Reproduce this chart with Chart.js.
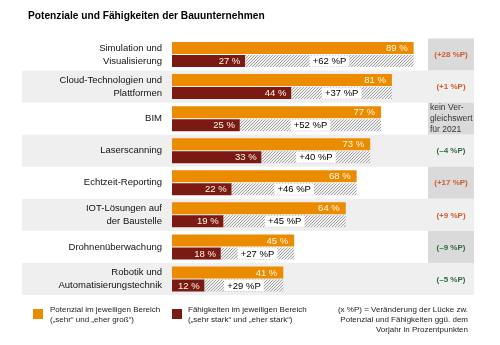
<!DOCTYPE html>
<html><head><meta charset="utf-8">
<script src="https://cdn.jsdelivr.net/npm/chart.js@4"></script>
<style>
body{margin:0;width:500px;height:345px;overflow:hidden;background:#fff;font-family:"Liberation Sans",Arial,sans-serif;}
#wrap{position:relative;width:500px;height:345px;}
canvas{position:absolute;left:0;top:0;}
.t{position:absolute;white-space:nowrap;color:#222;line-height:10px;}
.sq{position:absolute;width:10px;height:10px;}
</style></head><body>
<div id="wrap">
<canvas id="c" width="500" height="345"></canvas>
<div class="t" style="left:28px;top:9px;font-size:10.2px;font-weight:bold;color:#000;line-height:14px;">Potenziale und Fähigkeiten der Bauunternehmen</div>
<div class="sq" style="left:33px;top:309px;background:#eb8c00;"></div>
<div class="t" style="left:50px;top:305px;font-size:8px;">Potenzial im jeweiligen Bereich<br>(„sehr“ und „eher groß“)</div>
<div class="sq" style="left:172px;top:309px;background:#7b1a12;"></div>
<div class="t" style="left:188px;top:305px;font-size:8px;">Fähigkeiten im jeweiligen Bereich<br>(„sehr stark“ und „eher stark“)</div>
<div class="t" style="right:32px;top:305px;font-size:8px;text-align:right;">(x %P) = Veränderung der Lücke zw.<br>Potenzial und Fähigkeiten ggü. dem<br>Vorjahr in Prozentpunkten</div>
</div>
<script>
const categories = [
  ['Simulation und','Visualisierung'],
  ['Cloud-Technologien und','Plattformen'],
  ['BIM'],
  ['Laserscanning'],
  ['Echtzeit-Reporting'],
  ['IOT-Lösungen auf','der Baustelle'],
  ['Drohnenüberwachung'],
  ['Robotik und','Automatisierungstechnik']
];
const potential = [89, 81, 77, 73, 68, 64, 45, 41];
const ability   = [27, 44, 25, 33, 22, 19, 18, 12];
const gapPoints = [62, 37, 52, 40, 46, 45, 27, 29];
const changeVsPrevYear = [28, 1, null, -4, 17, 9, -9, -5];
const noComparisonText = ['kein Ver-','gleichswert','für 2021'];

const ORANGE = '#eb8c00', DARK = '#7b1a12';
const BAND = '#efefef', CELL = '#dadada';
const FONT = '"Liberation Sans", Arial, sans-serif';

function hatch(){
  const pc = document.createElement('canvas'); pc.width = 3; pc.height = 3;
  const g = pc.getContext('2d');
  g.fillStyle = '#f0f0f0'; g.fillRect(0,0,3,3);
  g.fillStyle = '#a3a3a3';
  for (let y=0;y<3;y++) for (let x=0;x<3;x++) if ((x+y)%3===0) g.fillRect(x,y,1,1);
  return document.getElementById('c').getContext('2d').createPattern(pc,'repeat');
}

const bgPlugin = {
  id: 'bg',
  beforeDraw(chart){
    const ctx = chart.ctx, ys = chart.scales.y;
    const step = ys.getPixelForValue(1) - ys.getPixelForValue(0);
    ctx.save();
    categories.forEach((c,i)=>{
      const yc = ys.getPixelForValue(i);
      const top = yc - step/2;
      if (i % 2 === 1){ ctx.fillStyle = BAND; ctx.fillRect(22, top, 452, step); }
      else { ctx.fillStyle = CELL; ctx.fillRect(428, top, 46, step); }
    });
    ctx.restore();
  },
  afterDatasetsDraw(chart){
    const ctx = chart.ctx, ys = chart.scales.y;
    const m0 = chart.getDatasetMeta(0).data, m1 = chart.getDatasetMeta(2).data, mg = chart.getDatasetMeta(1).data;
    ctx.save();
    ctx.textBaseline = 'middle';
    potential.forEach((v,i)=>{
      ctx.font = '9.5px ' + FONT;
      const b = m0[i];
      ctx.fillStyle = '#fff6e6'; ctx.textAlign = 'right';
      ctx.fillText(v + ' %', b.x - 6, b.y + 0.5);
      const d = m1[i];
      ctx.fillText(ability[i] + ' %', d.x - 5, d.y + 0.5);
      const g = mg[i];
      const cx = (g.x + g.base) / 2;
      const txt = '+' + gapPoints[i] + ' %P';
      const w = ctx.measureText(txt).width + 6;
      ctx.fillStyle = '#fff';
      ctx.fillRect(cx - w/2, d.y - 5.5, w, 11);
      ctx.fillStyle = '#000'; ctx.textAlign = 'center';
      ctx.fillText(txt, cx, d.y + 0.5);
      const yc = ys.getPixelForValue(i);
      const cv = changeVsPrevYear[i];
      if (cv === null){
        ctx.font = '8.5px ' + FONT;
        ctx.fillStyle = '#333'; ctx.textAlign = 'left';
        noComparisonText.forEach((t,k)=> ctx.fillText(t, 430, yc + (k-1)*11));
      } else {
        ctx.font = 'bold 8px ' + FONT;
        ctx.fillStyle = cv > 0 ? '#cf5a2c' : '#2f6b3c';
        ctx.textAlign = 'center';
        const s = cv > 0 ? '+' + cv : '–' + Math.abs(cv);
        ctx.fillText('(' + s + ' %P)', 451, yc + 0.5);
      }
    });
    ctx.restore();
  }
};

new Chart(document.getElementById('c'), {
  type: 'bar',
  data: {
    labels: categories,
    datasets: [
      { label: 'Potenzial', data: potential, backgroundColor: ORANGE, stack: 'a' },
      { label: 'Lücke', data: ability.map((a,i)=>[a, a + gapPoints[i]]), backgroundColor: hatch(), stack: 'b' },
      { label: 'Fähigkeiten', data: ability, backgroundColor: DARK, stack: 'b' }
    ]
  },
  options: {
    indexAxis: 'y',
    responsive: false,
    animation: false,
    devicePixelRatio: 1,
    categoryPercentage: 0.8125,
    barPercentage: 12/13,
    layout: { padding: { top: 38.5, bottom: 50, left: 0, right: 56.5 } },
    plugins: { legend: { display: false }, tooltip: { enabled: false } },
    scales: {
      x: { min: 0, max: 100, stacked: false, display: false },
      y: {
        grid: { display: false, drawTicks: false }, border: { display: false },
        ticks: { color: '#111', padding: 10, font: { family: FONT, size: 9.5, lineHeight: 1.35 } },
        afterFit(a){ a.width = 172; }
      }
    }
  },
  plugins: [bgPlugin]
});
</script>
</body></html>
